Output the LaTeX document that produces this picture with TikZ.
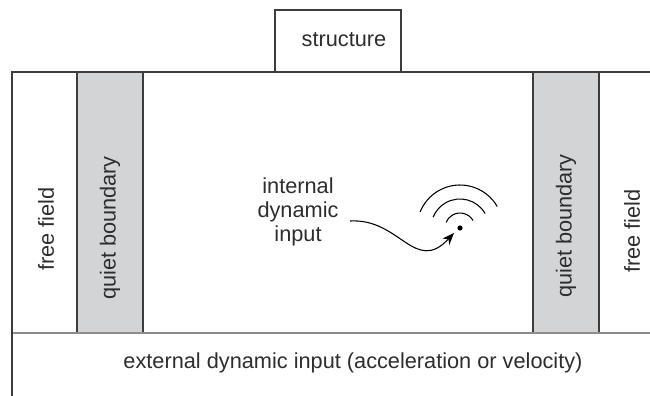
\documentclass[tikz,border=0pt]{standalone}
\usepackage{fontspec}
\setmainfont{Liberation Sans}
\usetikzlibrary{arrows.meta,calc}
\definecolor{qbgray}{RGB}{211,212,214}
\definecolor{lnblack}{RGB}{60,60,60}
\definecolor{txtdark}{RGB}{45,45,45}

\begin{document}
\begin{tikzpicture}[x=0.75pt,y=-0.75pt,line width=0.8pt,
  every node/.style={text=txtdark,font=\fontsize{16.3}{18}\selectfont},
  vlabel/.style={rotate=90}]
  \useasboundingbox (0,0) rectangle (650,396);
  \coordinate (TL) at (12,72);
  \coordinate (TR) at (650,72);
  \coordinate (BL) at (12,396);
  \coordinate (GL) at (12,333);
  \coordinate (GR) at (650,333);
  \coordinate (src) at (460,228);
  \coordinate (tip) at (454,233);
  \coordinate (wstart) at (350,221);
  % quiet boundaries
  \draw[lnblack,fill=qbgray] (77,72) rectangle (143,333);
  \draw[lnblack,fill=qbgray] (533,72) rectangle (599,333);
  % ground line and model border
  \draw[black!45] (GL) -- (GR);
  \draw[lnblack] (TR) -- (TL) -- (BL);
  \draw[lnblack] (275,72) -- (275,10) -- (401,10) -- (401,72);
  \node (struct) at (344,40) {structure};
  \node[vlabel] (ffL) at (46,229) {free field};
  \node[vlabel] (qbL) at (110,228) {quiet boundary};
  \node[vlabel] (qbR) at (566,226) {quiet boundary};
  \node[vlabel] (ffR) at (632,231) {free field};
  \node[align=center] (inp) at (298,212) {internal\\dynamic\\input};
  \node at (353,363) (ext) {external dynamic input (acceleration or velocity)};
  % source with waves
  \fill[black] (src) circle (2.6);
  \foreach \r in {15,29,43}
    \draw[black] ($(src)+(-30:\r)$) arc (-30:-158:\r);
  \draw[black,-{Stealth[length=9pt,width=7pt]}] (wstart)
    .. controls (400,218) and (415,275) .. (tip);
\end{tikzpicture}
\end{document}
